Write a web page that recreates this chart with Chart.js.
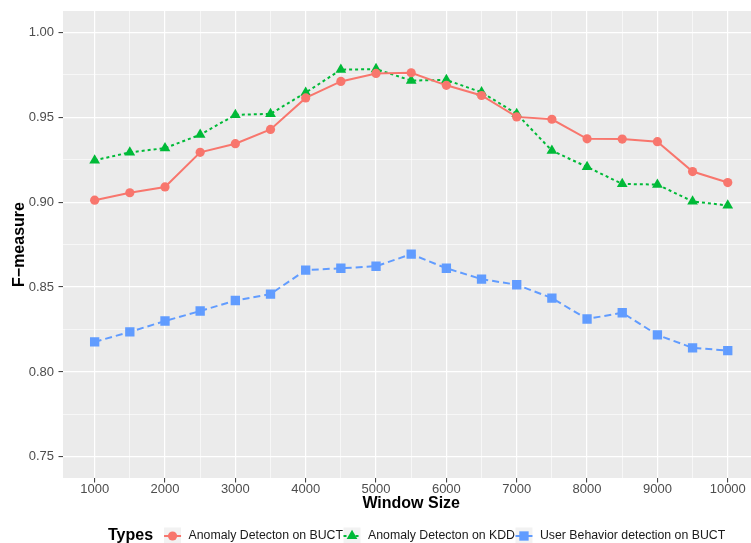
<!DOCTYPE html>
<html>
<head>
<meta charset="utf-8">
<script src="https://cdn.jsdelivr.net/npm/chart.js@4/dist/chart.umd.min.js"></script>
<style>
  html, body { margin: 0; padding: 0; background: #ffffff; overflow: hidden; }
  #wrap { width: 751px; height: 543px; overflow: hidden; position: relative; }
  canvas { display: block; }
</style>
</head>
<body>
<div id="wrap"><canvas id="chart" width="766" height="543"></canvas></div>
<script>
// Window sizes (x axis)
const windowSizes = [1000, 1500, 2000, 2500, 3000, 3500, 4000, 4500, 5000, 5500,
                     6000, 6500, 7000, 7500, 8000, 8500, 9000, 9500, 10000];

// F-measure per window size
const anomalyBUCT = [0.9012, 0.9056, 0.9090, 0.9294, 0.9345, 0.9429, 0.9615, 0.9712, 0.9759, 0.9763,
                     0.9689, 0.9629, 0.9503, 0.9489, 0.9374, 0.9372, 0.9357, 0.9181, 0.9116];
const anomalyKDD = [0.9247, 0.9294, 0.9319, 0.9398, 0.9515, 0.9521, 0.9646, 0.9781, 0.9785, 0.9717,
                    0.9721, 0.9648, 0.9521, 0.9304, 0.9208, 0.9108, 0.9104, 0.9005, 0.8981];
const userBehaviorBUCT = [0.8177, 0.8236, 0.8300, 0.8359, 0.8421, 0.8459, 0.8600, 0.8611, 0.8623, 0.8694,
                          0.8611, 0.8547, 0.8514, 0.8435, 0.8312, 0.8349, 0.8218, 0.8142, 0.8126];

// Axis breaks and labels
const xTickValues = [1000, 2000, 3000, 4000, 5000, 6000, 7000, 8000, 9000, 10000];
const yTickValues = [0.75, 0.80, 0.85, 0.90, 0.95, 1.00];
const seriesNames = ['Anomaly Detecton on BUCT', 'Anomaly Detecton on KDD', 'User Behavior detection on BUCT'];
const legendTitle = 'Types';
const xTitle = 'Window Size';
const yTitle = 'F\u2212measure';

// Styling
const COLORS = ['#F8766D', '#00BA38', '#619CFF'];
const STYLES = ['circle', 'triangle', 'rect'];
const RADII = [4.6, 6.2, 6.6];
const DASHES = [[], [3, 3], [7, 4]];
const FONT = '"Liberation Sans", Arial, Helvetica, sans-serif';

// Major breaks plus the midpoints between them (minor grid)
function withMinor(major) {
  const out = [];
  for (let i = 0; i < major.length; i++) {
    out.push({ value: major[i], major: true });
    if (i < major.length - 1) out.push({ value: (major[i] + major[i + 1]) / 2, major: false });
  }
  return out;
}
const xTicksAll = withMinor(xTickValues);
const yTicksAll = withMinor(yTickValues);
const isMajorX = v => xTickValues.some(t => Math.abs(t - v) < 1e-6);
const isMajorY = v => yTickValues.some(t => Math.abs(t - v) < 1e-9);

const seriesValues = [anomalyBUCT, anomalyKDD, userBehaviorBUCT];
const datasets = seriesValues.map((vals, i) => ({
  label: seriesNames[i],
  data: windowSizes.map((x, j) => ({ x: x, y: vals[j] })),
  borderColor: COLORS[i],
  backgroundColor: COLORS[i],
  borderWidth: 2,
  borderDash: DASHES[i],
  borderCapStyle: 'butt',
  pointStyle: STYLES[i],
  pointRadius: RADII[i],
  pointHoverRadius: RADII[i],
  pointBackgroundColor: COLORS[i],
  pointBorderWidth: 0,
  tension: 0,
  fill: false
}));

// Grey panel behind the grid
const panelBackground = {
  id: 'panelBackground',
  beforeDraw(chart) {
    const { ctx, chartArea: a } = chart;
    ctx.save();
    ctx.fillStyle = '#EBEBEB';
    ctx.fillRect(a.left, a.top, a.right - a.left, a.bottom - a.top);
    ctx.restore();
  }
};

// Horizontal legend with title on the left and grey keys
const bottomLegend = {
  id: 'bottomLegend',
  afterDraw(chart) {
    const ctx = chart.ctx;
    const cy = 536;
    const keyW = 17, keyH = 17;
    ctx.save();
    ctx.textBaseline = 'middle';
    ctx.textAlign = 'left';
    ctx.fillStyle = '#000000';
    ctx.font = 'bold 16px ' + FONT;
    let x = 108;
    ctx.fillText(legendTitle, x, cy);
    x += ctx.measureText(legendTitle).width + 11;
    ctx.font = '12.3px ' + FONT;
    seriesNames.forEach((name, i) => {
      ctx.fillStyle = '#F2F2F2';
      ctx.fillRect(x, cy - keyH / 2, keyW, keyH);
      ctx.save();
      ctx.strokeStyle = COLORS[i];
      ctx.lineWidth = 2;
      ctx.setLineDash(DASHES[i]);
      ctx.beginPath();
      ctx.moveTo(x, cy);
      ctx.lineTo(x + keyW, cy);
      ctx.stroke();
      ctx.restore();
      ctx.fillStyle = COLORS[i];
      Chart.helpers.drawPoint(ctx, { pointStyle: STYLES[i], radius: RADII[i], rotation: 0, borderWidth: 0 }, x + keyW / 2, cy);
      ctx.fillStyle = '#1A1A1A';
      const tx = x + keyW + 7.5;
      ctx.fillText(name, tx, cy);
      x = tx + ctx.measureText(name).width + 0.5;
    });
    ctx.restore();
  }
};

new Chart(document.getElementById('chart'), {
  type: 'line',
  data: { datasets: datasets },
  plugins: [panelBackground, bottomLegend],
  options: {
    responsive: false,
    animation: false,
    devicePixelRatio: 1,
    layout: { padding: { top: 9, right: 0, bottom: 30, left: 0 } },
    plugins: { legend: { display: false }, tooltip: { enabled: false } },
    scales: {
      x: {
        type: 'linear',
        min: 550,
        max: 10450,
        afterBuildTicks: s => { s.ticks = xTicksAll.map(t => ({ value: t.value })); },
        afterFit: s => { s.height = 35; },
        border: { display: false },
        grid: {
          color: '#FFFFFF',
          lineWidth: c => (c.tick && isMajorX(c.tick.value)) ? 1.2 : 0.6,
          drawTicks: true,
          tickLength: 4.5,
          tickWidth: 1,
          tickColor: c => (c.tick && isMajorX(c.tick.value)) ? '#333333' : 'rgba(0,0,0,0)'
        },
        ticks: {
          autoSkip: false,
          maxRotation: 0,
          padding: 0,
          color: '#4D4D4D',
          font: { family: FONT, size: 13, lineHeight: 1 },
          callback: v => isMajorX(v) ? String(v) : ''
        },
        title: {
          display: true,
          text: xTitle,
          color: '#000000',
          font: { family: FONT, size: 16, weight: 'bold', lineHeight: 1.2 },
          padding: { top: 0, bottom: 0 }
        }
      },
      y: {
        type: 'linear',
        min: 0.7375,
        max: 1.0127,
        afterBuildTicks: s => { s.ticks = yTicksAll.map(t => ({ value: t.value })); },
        afterFit: s => { s.width = 63; },
        border: { display: false },
        grid: {
          color: '#FFFFFF',
          lineWidth: c => (c.tick && isMajorY(c.tick.value)) ? 1.2 : 0.6,
          drawTicks: true,
          tickLength: 4.5,
          tickWidth: 1,
          tickColor: c => (c.tick && isMajorY(c.tick.value)) ? '#333333' : 'rgba(0,0,0,0)'
        },
        ticks: {
          autoSkip: false,
          padding: 4.5,
          color: '#4D4D4D',
          font: { family: FONT, size: 13, lineHeight: 1 },
          callback: v => isMajorY(v) ? v.toFixed(2) : ''
        },
        title: {
          display: true,
          text: yTitle,
          color: '#000000',
          font: { family: FONT, size: 16, weight: 'bold', lineHeight: 1.2 },
          padding: { top: 10, bottom: 0 }
        }
      }
    }
  }
});
</script>
</body>
</html>
